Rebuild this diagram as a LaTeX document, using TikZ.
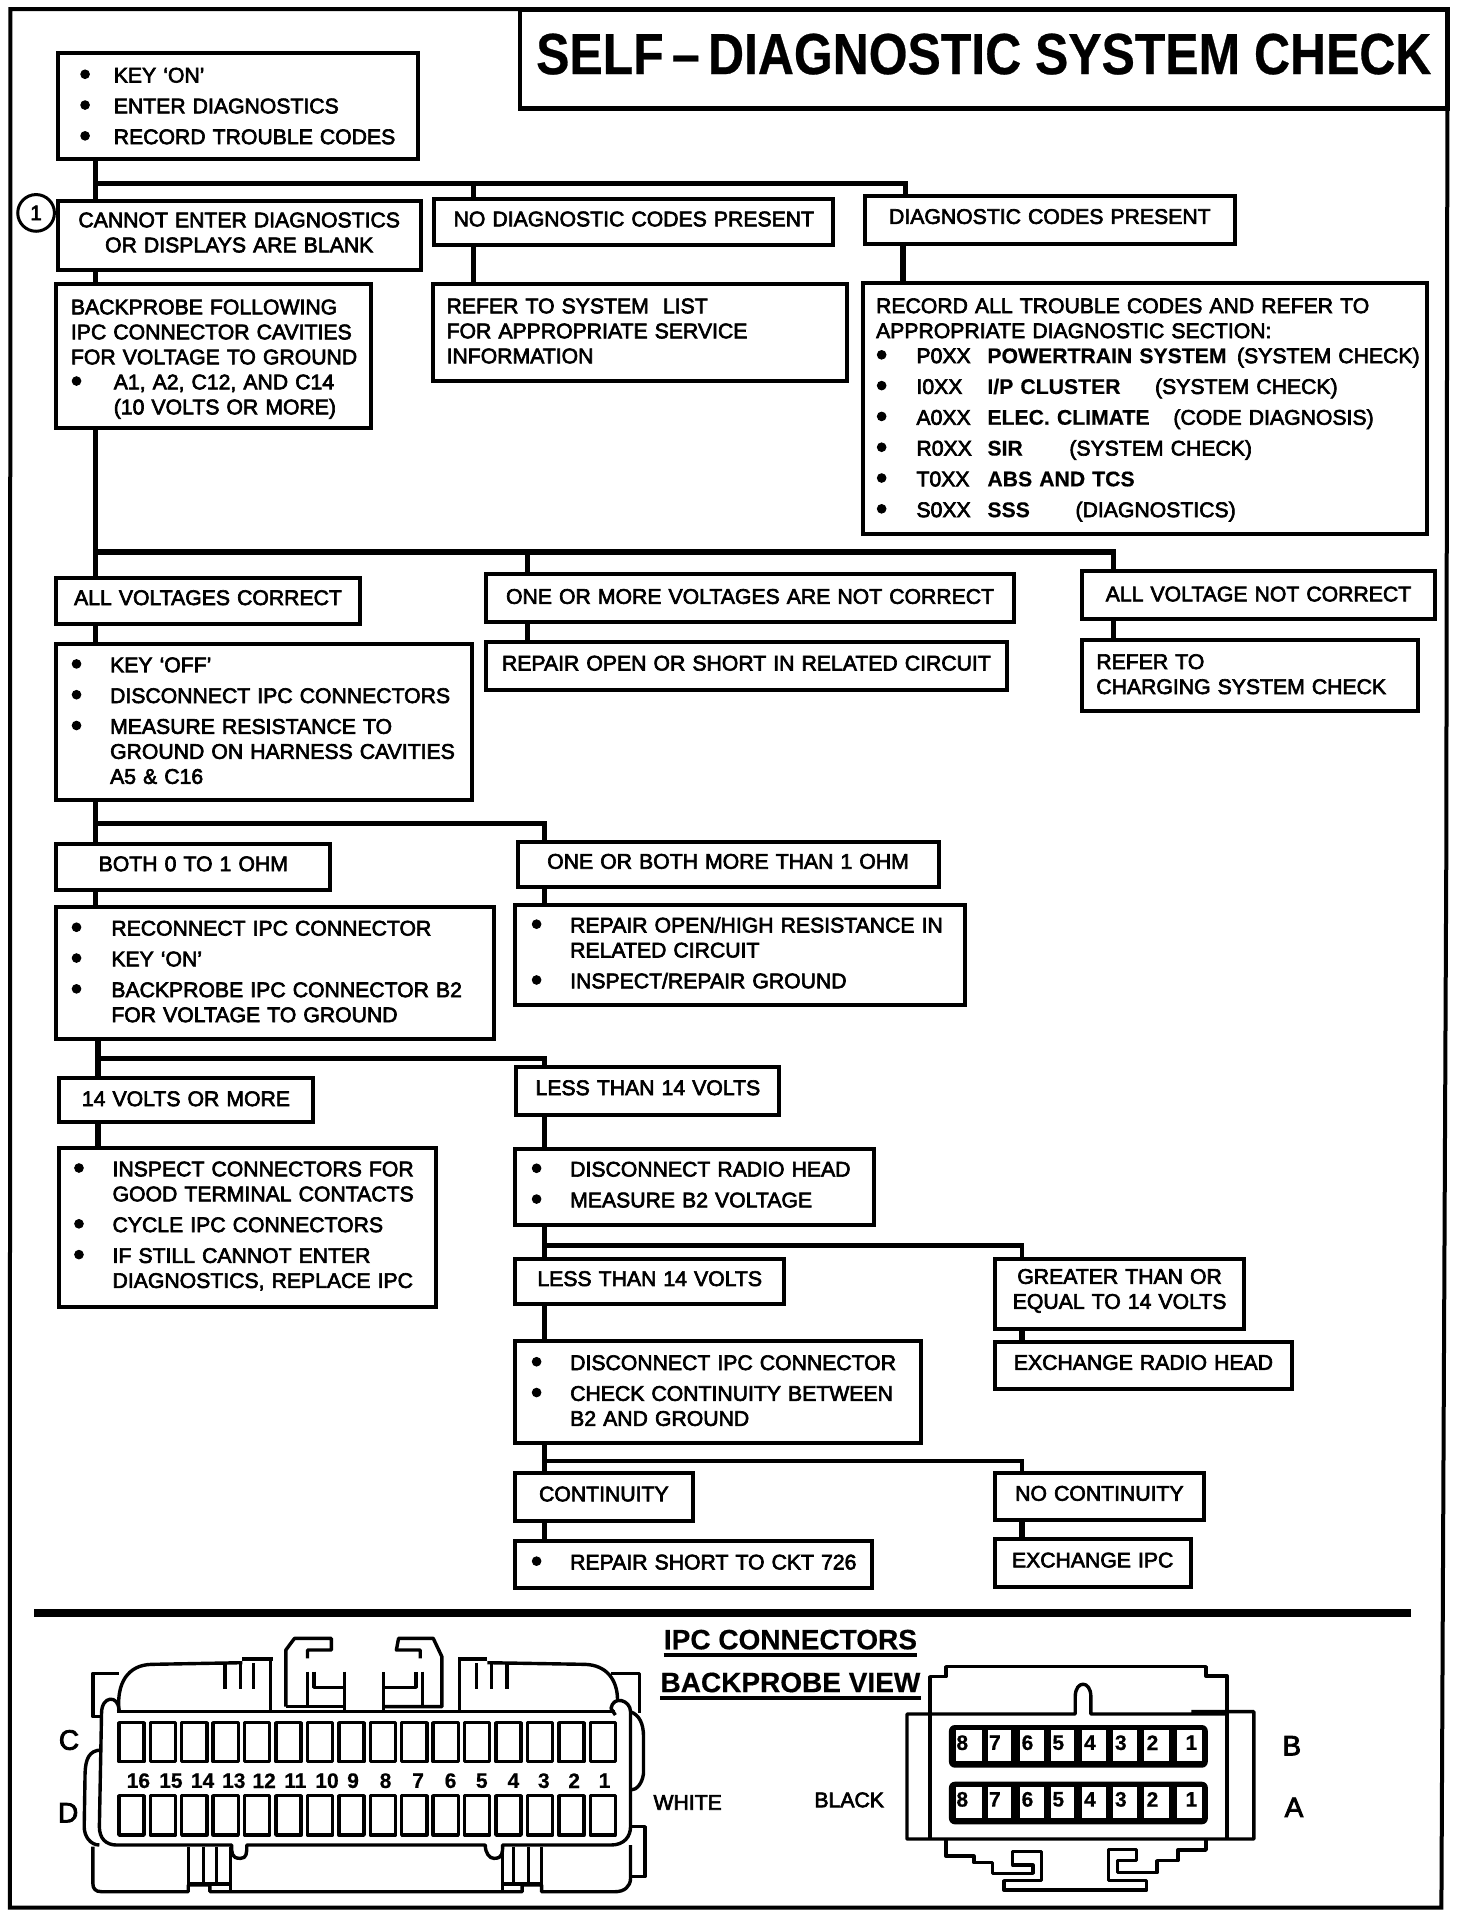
\documentclass[tikz,border=0pt]{standalone}
\usepackage{fontspec}
\setmainfont{Liberation Sans}[FakeBold=3,BoldFeatures={FakeBold=0.5}]
\usepackage{tikz}
\usetikzlibrary{positioning,calc}
\newlength\un
\setlength\un{0.6118pt}
\newcommand{\bu}{\raisebox{-0.2ex}{\scalebox{1.5}{\textbullet}}}
\newcommand{\blt}[1][32]{\makebox[#1\un][l]{\bu}}
\newcommand{\secrow}[4]{\makebox[33\un][l]{\bu}\makebox[58\un][l]{#1}\makebox[#3\un][l]{\textbf{#2}}#4}
\tikzset{
  boxbase/.style 2 args={draw,line width=2pt,outer sep=0pt,anchor=north west,inner sep=0pt,
    font=\fontsize{10.6}{12.5}\selectfont,
    minimum width=#1*\un,minimum height=#2*\un,text width=(#1-2)*\un},
  bx/.style n args={3}{boxbase={#1}{#2},align=left,
    execute at begin node={\leftskip=\dimexpr#3\un-1\un\relax},
    execute at end node={\par\kern2\un}},
  cx/.style 2 args={boxbase={#1}{#2},align=center,
    execute at end node={\par\kern5\un}},
  lower/.style={execute at end node={\kern-#1\un}},
  link/.style={line width=2.8pt},
  thinlink/.style={line width=2.2pt},
  conn/.style={line width=1.7pt,line join=round},
  pinlbl/.style={font=\fontsize{10.5}{12}\bfseries\selectfont,inner sep=0pt},
  capt/.style={font=\fontsize{10.6}{12}\selectfont,inner sep=0pt},
  side/.style={font=\fontsize{14}{16}\selectfont,inner sep=0pt},
  head/.style={font=\fontsize{14}{16}\bfseries\selectfont,inner sep=0pt}
}
\begin{document}
\begin{tikzpicture}[x=\un,y=-\un]
  \useasboundingbox (0,0) rectangle (1203,1567.5);
  % frame and title
  \draw[line width=2pt] (8.5,7.5) -- (1183,7.5) -- (1182,700) -- (1178,1559) -- (8,1559) -- cycle;
  \node[draw,line width=2.4pt,outer sep=0pt,anchor=north west,inner sep=0pt,minimum width=758*\un,minimum height=81*\un,
    font=\fontsize{29}{32}\bfseries\selectfont] (title) at (425,7.5) {\raisebox{8\un}{\scalebox{0.86}[1]{SELF\,–\,DIAGNOSTIC SYSTEM CHECK}}};
  % first level
  \node[bx={295}{87}{18},lower=4] (keyon) at (47,43) {\blt[28]KEY ‘ON’\\[2.9pt]\blt[28]ENTER DIAGNOSTICS\\[2.9pt]\blt[28]RECORD TROUBLE CODES};
  \node[cx={297}{57}] (noenter) at (47,164) {CANNOT ENTER DIAGNOSTICS\\OR DISPLAYS ARE BLANK};
  \node[cx={326}{37}] (nocodes) at (355,163) {NO DIAGNOSTIC CODES PRESENT};
  \node[cx={302}{39}] (codes) at (707,160) {DIAGNOSTIC CODES PRESENT};
  \node[circle,draw,line width=1.5pt,minimum size=30*\un,inner sep=0pt,font=\fontsize{10.5}{12}\selectfont] (callout) at (29.5,174) {1};
  \node[bx={257}{118}{12},lower=7] (backprobe) at (46,232) {BACKPROBE FOLLOWING\\IPC CONNECTOR CAVITIES\\FOR VOLTAGE TO GROUND\\\blt[35]A1, A2, C12, AND C14\\\hspace*{35\un}(10 VOLTS OR MORE)};
  \node[bx={338}{79}{11}] (syslist) at (354,232) {REFER TO SYSTEM\ \ LIST\\FOR APPROPRIATE SERVICE\\INFORMATION};
  \node[bx={461}{205}{11},lower=5] (record) at (705,231) {RECORD ALL TROUBLE CODES AND REFER TO\\APPROPRIATE DIAGNOSTIC SECTION:\\
    \secrow{P0XX}{POWERTRAIN SYSTEM}{204}{(SYSTEM CHECK)}\\[2.9pt]
    \secrow{I0XX}{I/P CLUSTER}{137}{(SYSTEM CHECK)}\\[2.9pt]
    \secrow{A0XX}{ELEC. CLIMATE}{152}{(CODE DIAGNOSIS)}\\[2.9pt]
    \secrow{R0XX}{SIR}{67}{(SYSTEM CHECK)}\\[2.9pt]
    \secrow{T0XX}{ABS AND TCS}{120}{}\\[2.9pt]
    \secrow{S0XX}{SSS}{72}{(DIAGNOSTICS)}};
  % voltages
  \node[cx={248}{38}] (allok) at (46,472) {ALL VOLTAGES CORRECT};
  \node[cx={432}{39},lower=3] (oneormore) at (397,469) {ONE OR MORE VOLTAGES ARE NOT CORRECT};
  \node[cx={289}{39},lower=3] (allbad) at (884,467) {ALL VOLTAGE NOT CORRECT};
  \node[bx={340}{128}{12}] (keyoff) at (46,526) {\blt KEY ‘OFF’\\[2.9pt]\blt DISCONNECT IPC CONNECTORS\\[2.9pt]\blt MEASURE RESISTANCE TO\\\hspace*{32\un}GROUND ON HARNESS CAVITIES\\\hspace*{32\un}A5 \& C16};
  \node[cx={426}{39}] (repaircirc) at (397,525) {REPAIR OPEN OR SHORT IN RELATED CIRCUIT};
  \node[bx={275}{58}{12}] (charging) at (884,523) {REFER TO\\CHARGING SYSTEM CHECK};
  % resistance
  \node[cx={224}{37}] (ohmok) at (46,690) {BOTH 0 TO 1 OHM};
  \node[cx={344}{37}] (ohmbad) at (423,688) {ONE OR BOTH MORE THAN 1 OHM};
  \node[bx={358}{108}{12}] (reconnect) at (46,741) {\blt[33]RECONNECT IPC CONNECTOR\\[2.9pt]\blt[33]KEY ‘ON’\\[2.9pt]\blt[33]BACKPROBE IPC CONNECTOR B2\\\hspace*{33\un}FOR VOLTAGE TO GROUND};
  \node[bx={368}{81}{13}] (repairhigh) at (421,740) {\blt REPAIR OPEN/HIGH RESISTANCE IN\\\hspace*{32\un}RELATED CIRCUIT\\[2.9pt]\blt INSPECT/REPAIR GROUND};
  % B2 voltage
  \node[cx={208}{36},lower=3] (volthi) at (48,881) {14 VOLTS OR MORE};
  \node[cx={215}{39}] (voltlo) at (422,872) {LESS THAN 14 VOLTS};
  \node[bx={308}{130}{12}] (inspect) at (48,938) {\blt INSPECT CONNECTORS FOR\\\hspace*{32\un}GOOD TERMINAL CONTACTS\\[2.9pt]\blt CYCLE IPC CONNECTORS\\[2.9pt]\blt IF STILL CANNOT ENTER\\\hspace*{32\un}DIAGNOSTICS, REPLACE IPC};
  \node[bx={293}{62}{13}] (radio) at (421,939) {\blt DISCONNECT RADIO HEAD\\[2.9pt]\blt MEASURE B2 VOLTAGE};
  \node[cx={220}{37}] (radiolo) at (421,1029) {LESS THAN 14 VOLTS};
  \node[cx={204}{57}] (radiohi) at (813,1029) {GREATER THAN OR\\EQUAL TO 14 VOLTS};
  \node[cx={243}{38}] (exradio) at (813,1097) {EXCHANGE RADIO HEAD};
  \node[bx={332}{83}{13}] (discipc) at (421,1096) {\blt DISCONNECT IPC CONNECTOR\\[2.9pt]\blt CHECK CONTINUITY BETWEEN\\\hspace*{32\un}B2 AND GROUND};
  \node[cx={145}{39}] (cont) at (421,1204) {CONTINUITY};
  \node[cx={171}{38}] (nocont) at (813,1204) {NO CONTINUITY};
  \node[bx={292}{39}{13}] (repairckt) at (421,1259) {\blt REPAIR SHORT TO CKT 726};
  \node[cx={160}{39}] (exipc) at (813,1258) {EXCHANGE IPC};
  % junctions
  \coordinate (j1) at (78,150);
  \coordinate (j2) at (78,451);
  \coordinate (j3) at (78,673);
  \coordinate (j4) at (80,865);
  \coordinate (j5) at (445,1018);
  \coordinate (j6) at (445,1194);
  \coordinate (c1) at (387,150);
  \coordinate (c2) at (740,150);
  \coordinate (c3) at (431,451);
  \coordinate (c4) at (910,451);
  \coordinate (c5) at (445,673);
  \coordinate (c6) at (445,865);
  \coordinate (c7) at (835,1018);
  \coordinate (c8) at (835,1194);
  \draw[link] (keyon.south -| j1) -- (noenter.north -| j1);
  \draw[link] (j1) -- (c2) -- (codes.north -| c2);
  \draw[link] (c1) -- (nocodes.north -| c1);
  \draw[link] (noenter.south -| j1) -- (backprobe.north -| j1);
  \draw[link] (nocodes.south -| c1) -- (syslist.north -| c1);
  \draw[link] (codes.south -| 738,0) -- (record.north -| 738,0);
  \draw[link] (backprobe.south -| j2) -- (allok.north -| j2);
  \draw[link] (j2) -- (c4) -- (allbad.north -| c4);
  \draw[link] (c3) -- (oneormore.north -| c3);
  \draw[link] (allok.south -| j2) -- (keyoff.north -| j2);
  \draw[link] (oneormore.south -| c3) -- (repaircirc.north -| c3);
  \draw[link] (allbad.south -| c4) -- (charging.north -| c4);
  \draw[link] (keyoff.south -| j3) -- (ohmok.north -| j3);
  \draw[link] (j3) -- (c5) -- (ohmbad.north -| c5);
  \draw[link] (ohmok.south -| j3) -- (reconnect.north -| j3);
  \draw[link] (ohmbad.south -| c5) -- (repairhigh.north -| c5);
  \draw[link] (reconnect.south -| j4) -- (volthi.north -| j4);
  \draw[thinlink] (j4) -- (c6) -- (voltlo.north -| c6);
  \draw[link] (volthi.south -| j4) -- (inspect.north -| j4);
  \draw[link] (voltlo.south -| c6) -- (radio.north -| c6);
  \draw[link] (radio.south -| j5) -- (radiolo.north -| j5);
  \draw[thinlink] (j5) -- (c7) -- (radiohi.north -| c7);
  \draw[link] (radiohi.south -| c7) -- (exradio.north -| c7);
  \draw[link] (radiolo.south -| j5) -- (discipc.north -| j5);
  \draw[link] (discipc.south -| j6) -- (cont.north -| j6);
  \draw[thinlink] (j6) -- (c8) -- (nocont.north -| c8);
  \draw[link] (cont.south -| j6) -- (repairckt.north -| j6);
  \draw[link] (nocont.south -| c8) -- (exipc.north -| c8);
  % separator
  \draw[line width=4pt] (28,1318) -- (1153,1318);
  % captions
  \node[head] (ipchead) at (646,1340) {IPC CONNECTORS};
  \node[head] (viewhead) at (646,1375) {BACKPROBE VIEW};
  \draw[line width=2pt] ([yshift=-2.5pt]ipchead.south west) -- ([yshift=-2.5pt]ipchead.south east);
  \draw[line width=2pt] ([yshift=-2.5pt]viewhead.south west) -- ([yshift=-2.5pt]viewhead.south east);
  \node[capt] (white) at (562,1473) {WHITE};
  \node[capt] (black) at (694,1471) {BLACK};
  % white connector
  \begin{scope}[shift={(15pt,-800pt)},x=0.2168pt,y=-0.16667pt]
    \draw[conn] (205,330) .. controls (200,250) and (225,195) .. (280,193) -- (490,188);
    \fill (490,170) rectangle (560,184);
    \draw[conn] (555,172) -- (555,332);
    \draw[conn] (200,335) -- (1350,335);
    \foreach \t in {450,485,515,1030,1065,1100} {\draw[conn] (\t,190) -- (\t,268);}
    \draw[conn] (590,320) -- (590,150) -- (610,115) -- (695,115) -- (695,150) -- (640,150) -- (640,175);
    \draw[conn] (640,215) -- (640,320);
    \draw[conn] (590,320) -- (725,320);
    \draw[conn] (655,215) -- (655,262) -- (725,262);
    \draw[conn] (725,215) -- (725,335);
    \draw[conn] (815,335) -- (815,215);
    \draw[conn] (815,320) -- (950,320) -- (950,170) -- (930,115) -- (850,115) -- (845,150) -- (900,150) -- (900,175);
    \draw[conn] (815,262) -- (890,262) -- (890,215);
    \draw[conn] (905,215) -- (905,320);
    \draw[conn] (990,172) -- (990,332);
    \fill (990,170) rectangle (1055,184);
    \draw[conn] (1055,188) -- (1280,193) .. controls (1330,195) and (1355,240) .. (1355,300);
    \draw[conn] (205,220) -- (145,220) -- (145,350) -- (165,350);
    \draw[conn] (1340,220) -- (1405,220) -- (1405,340);
    \draw[conn] (205,330) .. controls (205,285) and (165,285) .. (165,340) -- (160,680) .. controls (160,715) and (175,735) .. (200,735) -- (465,735) .. controls (465,760) and (465,775) .. (485,775) .. controls (500,775) and (500,760) .. (500,735) -- (1050,735) .. controls (1050,760) and (1060,775) .. (1070,775) .. controls (1090,775) and (1090,760) .. (1090,735) -- (1340,735) .. controls (1370,735) and (1385,710) .. (1385,680) -- (1385,335) .. controls (1385,300) and (1345,285) .. (1340,325) -- (1350,345);
    \draw[conn] (165,450) .. controls (135,450) and (128,480) .. (127,520) -- (125,680) .. controls (125,710) and (140,735) .. (160,735);
    \draw[conn] (1385,335) .. controls (1405,345) and (1415,370) .. (1415,410) -- (1415,520) .. controls (1412,550) and (1400,570) .. (1385,570);
    \draw[conn] (145,740) -- (145,850) .. controls (145,865) and (150,875) .. (165,875) -- (365,875) -- (365,855) -- (415,855) -- (415,875) -- (1135,875) -- (1135,855) -- (1180,855) -- (1180,875) -- (1350,875) .. controls (1370,875) and (1385,860) .. (1385,835) -- (1385,735);
    \foreach \t in {365,400,430,462,1090,1115,1150,1180} {\draw[conn] (\t,742) -- (\t,855);}
    \draw[conn] (462,855) -- (462,875);
    \draw[conn] (1090,855) -- (1090,875);
    \draw[conn] (365,852) -- (462,852);
    \draw[conn] (1090,852) -- (1180,852);
    \draw[conn] (1385,680) -- (1418,680) -- (1418,830) -- (1385,830);
    \foreach \i in {0,...,15} {
      \draw[conn] ({205+72.47*\i},368) rectangle ++(58,117);
      \draw[conn] ({205+72.47*\i},587) rectangle ++(58,118);
    }
    \foreach \n/\x in {16/250,15/325,14/398,13/470,12/540,11/612,10/685,9/745,8/820,7/895,6/970,5/1042,4/1115,3/1185,2/1255,1/1325} {
      \node[pinlbl] (w\n) at (\x,542) {\n};
    }
    \node[side] (rowc) at (90,420) {C};
    \node[side] (rowd) at (88,638) {D};
  \end{scope}
  % black connector
  \begin{scope}[shift={(320pt,-800pt)},x=0.2232pt,y=-0.16667pt]
    \draw[conn] (650,718) -- (650,230) -- (685,230) -- (685,200) -- (1268,200) -- (1268,228) -- (1315,228) -- (1315,715);
    \draw[conn] (1235,335) -- (1375,335) -- (1375,717) -- (598,717) -- (598,342) -- (975,342) -- (975,290) .. controls (975,240) and (1010,240) .. (1010,290) -- (1010,342) -- (1315,342);
    \foreach \ry in {375,545} {
      \fill[rounded corners=3pt] (692,\ry) rectangle ++(580,128);
      \foreach \l/\r in {707/765,780/832,852/905,920/973,990/1043,1060/1113,1130/1185,1202/1258} {
        \fill[white] (\l,\ry+16) rectangle (\r,\ry+108);
      }
    }
    \foreach \n/\x in {8/722,7/795,6/868,5/937,4/1008,3/1077,2/1148,1/1235} {
      \node[pinlbl] (b\n) at (\x,428) {\n};
      \node[pinlbl] (a\n) at (\x,598) {\n};
    }
    \draw[conn] (685,720) -- (685,768) -- (748,768) -- (748,788) -- (790,788) -- (790,820) -- (880,820) -- (880,795) -- (835,795) -- (835,755) -- (900,755) -- (900,842) -- (815,842) -- (815,870) -- (1135,870) -- (1135,842) -- (1050,842) -- (1050,748) -- (1112,748) -- (1112,782) -- (1070,782) -- (1070,818) -- (1158,818) -- (1158,782) -- (1205,782) -- (1205,750) -- (1268,750) -- (1268,720);
    \node[side] (rowb) at (1460,437) {B};
    \node[side] (rowa) at (1465,622) {A};
  \end{scope}
\end{tikzpicture}
\end{document}
